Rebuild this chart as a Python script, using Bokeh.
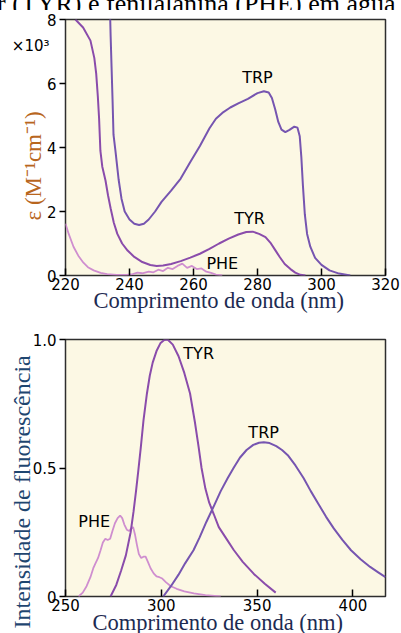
from bokeh.plotting import figure
from bokeh.layouts import column
from bokeh.models import Label, FixedTicker, Range1d, LinearAxis, Div, Title
from bokeh.embed import file_html
from bokeh.resources import INLINE

# ---- absorption spectra (epsilon, x10^3 M^-1 cm^-1) ----
trp_abs_nm = [233.9, 234.1, 234.4, 234.7, 235.0, 235.6, 236.6, 237.5, 238.5, 240.0,
              241.5, 243.0, 244.5, 246.0, 248.0, 250.0, 253.0, 256.0, 259.0, 262.0,
              265.0, 267.0, 269.0, 271.5, 274.0, 277.0, 280.0, 282.0, 283.5, 284.5,
              285.5, 286.5, 287.5, 288.7, 290.0, 291.5, 292.5, 293.2, 293.7, 294.2,
              294.8, 295.5, 296.5, 298.0, 300.0, 302.5, 305.5, 309.0]
trp_abs_eps = [8.3, 7.5, 6.5, 5.5, 4.4, 3.9, 3.0, 2.4, 2.0, 1.75,
               1.62, 1.58, 1.62, 1.75, 2.0, 2.3, 2.65, 3.03, 3.55, 4.05,
               4.6, 4.9, 5.08, 5.25, 5.38, 5.52, 5.7, 5.76, 5.72, 5.55,
               5.2, 4.8, 4.56, 4.48, 4.55, 4.65, 4.62, 4.35, 3.7, 2.8,
               1.9, 1.3, 0.9, 0.55, 0.33, 0.16, 0.06, 0.0]

tyr_abs_nm = [223.1, 225.5, 227.8, 229.0, 229.6, 230.1, 230.5, 230.9, 231.5, 232.5,
              233.3, 234.1, 235.1, 236.2, 237.7, 239.4, 241.5, 244.0, 246.5, 248.5,
              250.5, 253.0, 256.0, 259.0, 262.0, 265.0, 268.0, 271.0, 274.0, 276.5,
              278.5, 280.5, 282.5, 284.0, 285.5, 287.0, 288.5, 290.3, 291.8, 293.4,
              295.0]
tyr_abs_eps = [8.0, 7.75, 7.34, 6.8, 6.3, 5.6, 4.9, 3.9, 3.4, 2.97,
               2.5, 2.1, 1.65, 1.3, 1.0, 0.78, 0.58, 0.42, 0.33, 0.3,
               0.31, 0.36, 0.45, 0.56, 0.68, 0.83, 1.0, 1.15, 1.28, 1.36,
               1.37, 1.3, 1.2, 1.03, 0.8, 0.57, 0.36, 0.2, 0.09, 0.02,
               0.0]

phe_abs_nm = [220.0, 221.0, 222.5, 224.0, 225.6, 227.0, 228.8, 231.0, 233.0, 236.0,
              239.0, 241.0, 242.5, 244.0, 246.0, 247.5, 249.0, 250.5, 252.0, 253.5,
              255.0, 256.5, 258.0, 259.5, 261.0, 262.5, 264.0, 265.5, 267.0, 269.0]
phe_abs_eps = [1.62, 1.3, 0.9, 0.62, 0.4, 0.26, 0.16, 0.08, 0.04, 0.02,
               0.02, 0.04, 0.09, 0.07, 0.12, 0.1, 0.18, 0.14, 0.24, 0.2,
               0.3, 0.37, 0.24, 0.3, 0.2, 0.22, 0.12, 0.08, 0.03, 0.0]

# ---- fluorescence emission (relative intensity) ----
tyr_fl_nm = [273.5, 276.5, 279.0, 281.5, 284.0, 285.5, 286.8, 288.0, 289.3, 290.7,
             292.5, 294.0, 295.5, 297.5, 299.5, 301.5, 303.3, 306.0, 309.0, 312.0,
             315.0, 317.5, 319.5, 321.0, 323.0, 325.0, 327.4, 330.0, 333.5, 337.9,
             342.5, 348.3, 354.0, 359.7]
tyr_fl_int = [0.0, 0.045, 0.1, 0.16, 0.25, 0.33, 0.41, 0.49, 0.58, 0.685,
              0.79, 0.86, 0.91, 0.955, 0.985, 0.998, 1.0, 0.98, 0.935, 0.87,
              0.79, 0.68, 0.58, 0.5, 0.42, 0.365, 0.32, 0.27, 0.23, 0.18,
              0.135, 0.088, 0.05, 0.015]

trp_fl_nm = [301.0, 305.0, 309.0, 312.5, 316.8, 320.0, 323.5, 327.3, 331.0, 334.6,
             337.7, 341.0, 344.5, 348.0, 351.0, 353.5, 356.5, 360.0, 363.0, 366.0,
             370.0, 374.3, 378.0, 382.0, 386.0, 390.0, 394.5, 399.0, 404.0, 409.0,
             413.0, 417.0]
trp_fl_int = [0.0, 0.04, 0.085, 0.13, 0.18, 0.23, 0.29, 0.35, 0.41, 0.46,
              0.5, 0.54, 0.57, 0.59, 0.598, 0.6, 0.597, 0.585, 0.57, 0.55,
              0.51, 0.46, 0.41, 0.36, 0.31, 0.265, 0.22, 0.18, 0.145, 0.115,
              0.095, 0.075]

phe_fl_nm = [256.8, 259.0, 261.0, 263.0, 264.5, 265.7, 267.0, 268.3, 269.5, 270.8,
             272.0, 273.3, 274.5, 275.8, 277.2, 278.5, 279.6, 280.7, 282.0, 283.2,
             284.3, 285.3, 286.3, 287.3, 288.3, 289.5, 290.7, 291.8, 293.0, 294.4,
             296.0, 297.5, 299.0, 300.5, 302.5, 305.0, 308.0, 312.0, 317.0, 323.0,
             331.0]
phe_fl_int = [0.0, 0.015, 0.04, 0.075, 0.11, 0.13, 0.15, 0.18, 0.21, 0.225,
              0.22, 0.225, 0.255, 0.285, 0.305, 0.315, 0.305, 0.28, 0.26, 0.255,
              0.265, 0.27, 0.24, 0.2, 0.165, 0.15, 0.155, 0.155, 0.135, 0.11,
              0.09, 0.078, 0.075, 0.07, 0.055, 0.04, 0.03, 0.02, 0.012, 0.005,
              0.0]

abs_xticks = [220, 240, 260, 280, 300, 320]
abs_yticks = [0, 2, 4, 6, 8]
scale_tick = 7.16           # position of the "x10^3" multiplier note
fl_xticks = [250, 300, 350, 400]
fl_yticks = [0, 0.5, 1.0]
fl_ytick_labels = {0: "0", 0.5: "0.5", 1: "1.0"}

caption_tail = "r (TYR) e fenilalanina (PHE) em água"
xlabel = "Comprimento de onda (nm)"
abs_ylabel = "ε (M⁻¹cm⁻¹)"
fl_ylabel = "Intensidade de fluorescência"

BG = "#fcf8e4"
C_TRP = "#7655b0"
C_TYR = "#8a4cab"
C_PHE = "#cf8ecf"
FRAME = "#2e2e2e"
SANS = "DejaVu Sans"
SERIF = "Liberation Serif"
XLAB_COLOR = "#1d2b52"


def style(p, xticks, yticks):
    p.background_fill_color = BG
    p.border_fill_color = "white"
    p.outline_line_color = FRAME
    p.outline_line_width = 1.5
    p.outline_line_alpha = 1.0
    p.xgrid.visible = False
    p.ygrid.visible = False
    for ax in (p.xaxis[0], p.yaxis[0]):
        ax.axis_line_color = None
        ax.major_tick_line_color = "black"
        ax.major_tick_line_width = 1.5
        ax.minor_tick_line_color = None
        ax.major_label_text_font = SANS
        ax.major_label_text_font_size = "15px"
        ax.major_label_text_color = "black"
    p.xaxis.ticker = FixedTicker(ticks=xticks)
    p.yaxis.ticker = FixedTicker(ticks=yticks)
    p.xaxis.major_tick_in = 7
    p.xaxis.major_tick_out = 0
    p.xaxis.major_label_standoff = 2
    p.yaxis.major_tick_in = 0
    p.yaxis.major_tick_out = 6
    p.yaxis.major_label_standoff = 3


def side_title(text, size, color, **kw):
    return Title(text=text, text_font=SERIF, text_font_style="normal",
                 text_font_size=size, text_color=color, **kw)


def add_label(p, x, y, text):
    p.add_layout(Label(x=x, y=y, text=text, text_font=SANS,
                       text_font_size="16px", text_color="black",
                       text_align="center", text_baseline="middle"))


# caption line running off the top edge
caption = Div(
    text=('<div style="font-family:\'Liberation Serif\';font-size:26px;'
          'line-height:26px;margin:-16px 0 0 -3px;white-space:nowrap;'
          'color:#000">' + caption_tail + '</div>'),
    width=401, height=10, margin=0, styles={"overflow": "hidden"})

# ---------------- absorption panel ----------------
p1 = figure(width=401, height=310, output_backend="svg", toolbar_location=None,
            title=None, x_range=Range1d(220, 320), y_range=Range1d(0, 8),
            min_border_left=65, min_border_right=16, min_border_top=9,
            min_border_bottom=45)
style(p1, abs_xticks, abs_yticks)

p1.add_layout(side_title(xlabel, "22.5px", XLAB_COLOR, align="left",
                         vertical_align="middle", offset=28, standoff=-11),
              "below")

# rotated epsilon label, started a fixed distance above the frame bottom
p1.add_layout(side_title(abs_ylabel, "23px", "#b8661e", align="left",
                         vertical_align="bottom", offset=55, standoff=-5),
              "left")

# outermost left axis carrying only the multiplier note
mult_axis = LinearAxis(ticker=FixedTicker(ticks=[scale_tick]),
                       major_label_overrides={scale_tick: "×10³"},
                       axis_line_color=None,
                       major_tick_in=0, major_tick_out=0,
                       major_tick_line_color=None, minor_tick_line_color=None,
                       major_label_standoff=-28,
                       major_label_text_font=SANS,
                       major_label_text_font_size="15px",
                       major_label_text_color="black")
p1.add_layout(mult_axis, "left")

p1.line(phe_abs_nm, phe_abs_eps, line_color=C_PHE, line_width=1.8)
p1.line(tyr_abs_nm, tyr_abs_eps, line_color=C_TYR, line_width=2)
p1.line(trp_abs_nm, trp_abs_eps, line_color=C_TRP, line_width=2)

add_label(p1, 280.0, 6.2, "TRP")
add_label(p1, 277.5, 1.78, "TYR")
add_label(p1, 269.0, 0.37, "PHE")

# ---------------- fluorescence panel ----------------
p2 = figure(width=401, height=313, output_backend="svg", toolbar_location=None,
            title=None, x_range=Range1d(250, 417), y_range=Range1d(0, 1.0),
            min_border_left=65, min_border_right=16, min_border_top=19,
            min_border_bottom=37)
style(p2, fl_xticks, fl_yticks)
p2.yaxis.major_label_overrides = fl_ytick_labels

p2.add_layout(side_title(xlabel, "22.5px", XLAB_COLOR, align="left",
                         vertical_align="middle", offset=27, standoff=-10),
              "below")
p2.add_layout(side_title(fl_ylabel, "24px", "#1f4670", align="left",
                         vertical_align="bottom", offset=-32, standoff=-11),
              "left")

p2.line(phe_fl_nm, phe_fl_int, line_color=C_PHE, line_width=1.8)
p2.line(tyr_fl_nm, tyr_fl_int, line_color=C_TYR, line_width=2)
p2.line(trp_fl_nm, trp_fl_int, line_color=C_TRP, line_width=2)

add_label(p2, 319.5, 0.945, "TYR")
add_label(p2, 353.4, 0.64, "TRP")
add_label(p2, 265.0, 0.29, "PHE")

layout = column(caption, p1, p2, spacing=0)
open("out.html", "w").write(file_html(layout, INLINE))
